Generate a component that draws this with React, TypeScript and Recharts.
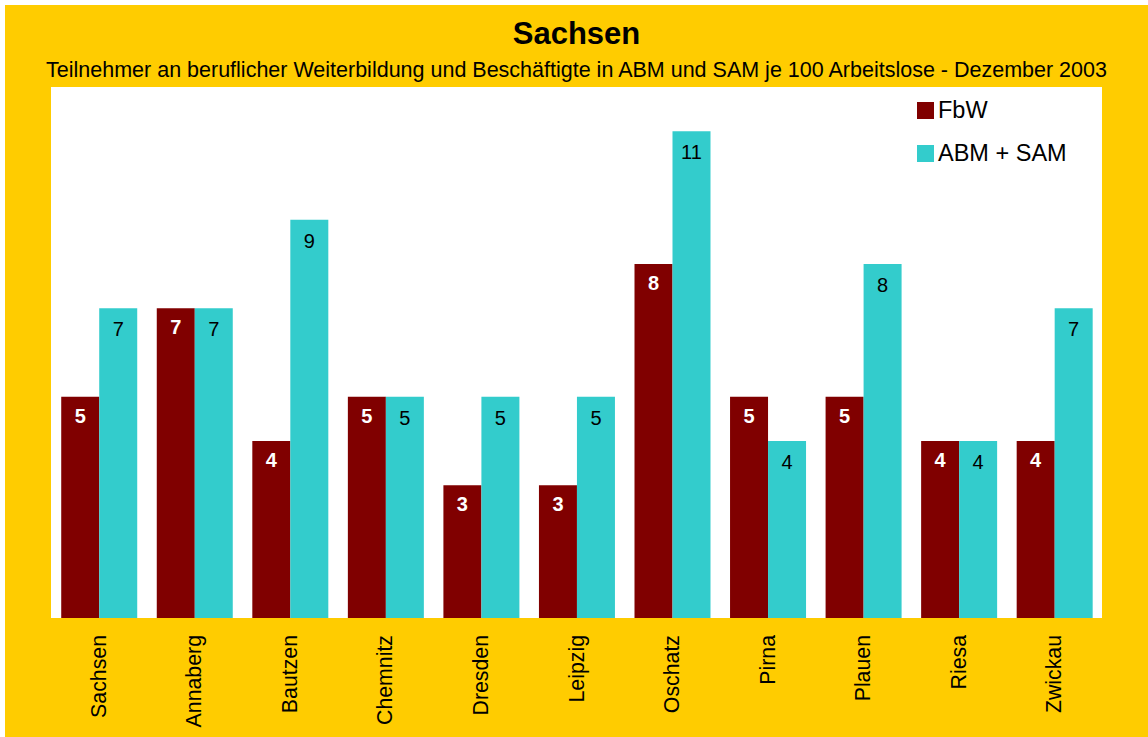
import { BarChart, Bar, XAxis, YAxis, CartesianGrid, LabelList } from "recharts";

const regions = ["Sachsen", "Annaberg", "Bautzen", "Chemnitz", "Dresden", "Leipzig", "Oschatz", "Pirna", "Plauen", "Riesa", "Zwickau"];
const fbw = [5, 7, 4, 5, 3, 3, 8, 5, 5, 4, 4];
const abmSam = [7, 7, 9, 5, 5, 5, 11, 4, 8, 4, 7];

const data = regions.map((name, i) => ({ name, fbw: fbw[i], abm: abmSam[i] }));

const FONT = "'Liberation Sans', Arial, sans-serif";
const RED = "#800000";
const CYAN = "#33CCCC";

const series = [
  { key: "fbw", label: "FbW", color: RED },
  { key: "abm", label: "ABM + SAM", color: CYAN },
];

const Tick = ({ x, y, payload }: any) => (
  <text
    x={0}
    y={0}
    transform={`translate(${x},${y + 9}) rotate(-90)`}
    textAnchor="end"
    dominantBaseline="central"
    fontSize={21.3}
    fontFamily={FONT}
    fill="#000"
  >
    {payload.value}
  </text>
);

const App = () => (
  <div style={{ position: "fixed", left: 5, top: 5, width: 1143, height: 732, background: "#FFCC00" }}>
    <div style={{ position: "absolute", left: 0, width: 1143, top: 11, textAlign: "center", fontFamily: FONT, fontWeight: "bold", fontSize: 31 }}>
      Sachsen
    </div>
    <div style={{ position: "absolute", left: 0, width: 1143, top: 53, textAlign: "center", fontFamily: FONT, fontSize: 21.5, whiteSpace: "nowrap" }}>
      Teilnehmer an beruflicher Weiterbildung und Beschäftigte in ABM und SAM je 100 Arbeitslose - Dezember 2003
    </div>
    <BarChart
      width={1143}
      height={732}
      data={data}
      margin={{ top: 82, right: 46, left: 46, bottom: 0 }}
      barCategoryGap="10.7%"
      barGap={0}
      style={{ position: "absolute", left: 0, top: 0 }}
    >
      <CartesianGrid fill="#ffffff" stroke="none" />
      <XAxis dataKey="name" height={119} axisLine={false} tickLine={false} tick={<Tick />} interval={0} />
      <YAxis hide domain={[0, 12]} />
      <Bar dataKey="fbw" name="FbW" fill={RED} isAnimationActive={false}>
        <LabelList dataKey="fbw" position="insideTop" offset={12} fill="#fff" fontWeight="bold" fontSize={20} fontFamily={FONT} />
      </Bar>
      <Bar dataKey="abm" name="ABM + SAM" fill={CYAN} isAnimationActive={false}>
        <LabelList dataKey="abm" position="insideTop" offset={14} fill="#000" fontSize={20} fontFamily={FONT} />
      </Bar>
    </BarChart>
    <div style={{ position: "absolute", left: 912, top: 84, fontFamily: FONT, fontSize: 23.5, color: "#000" }}>
      {series.map((it) => (
        <div key={it.key} style={{ display: "flex", alignItems: "center", height: 43 }}>
          <span style={{ width: 17, height: 17, background: it.color, marginRight: 4, display: "inline-block" }} />
          <span>{it.label}</span>
        </div>
      ))}
    </div>
  </div>
);

export default App;
